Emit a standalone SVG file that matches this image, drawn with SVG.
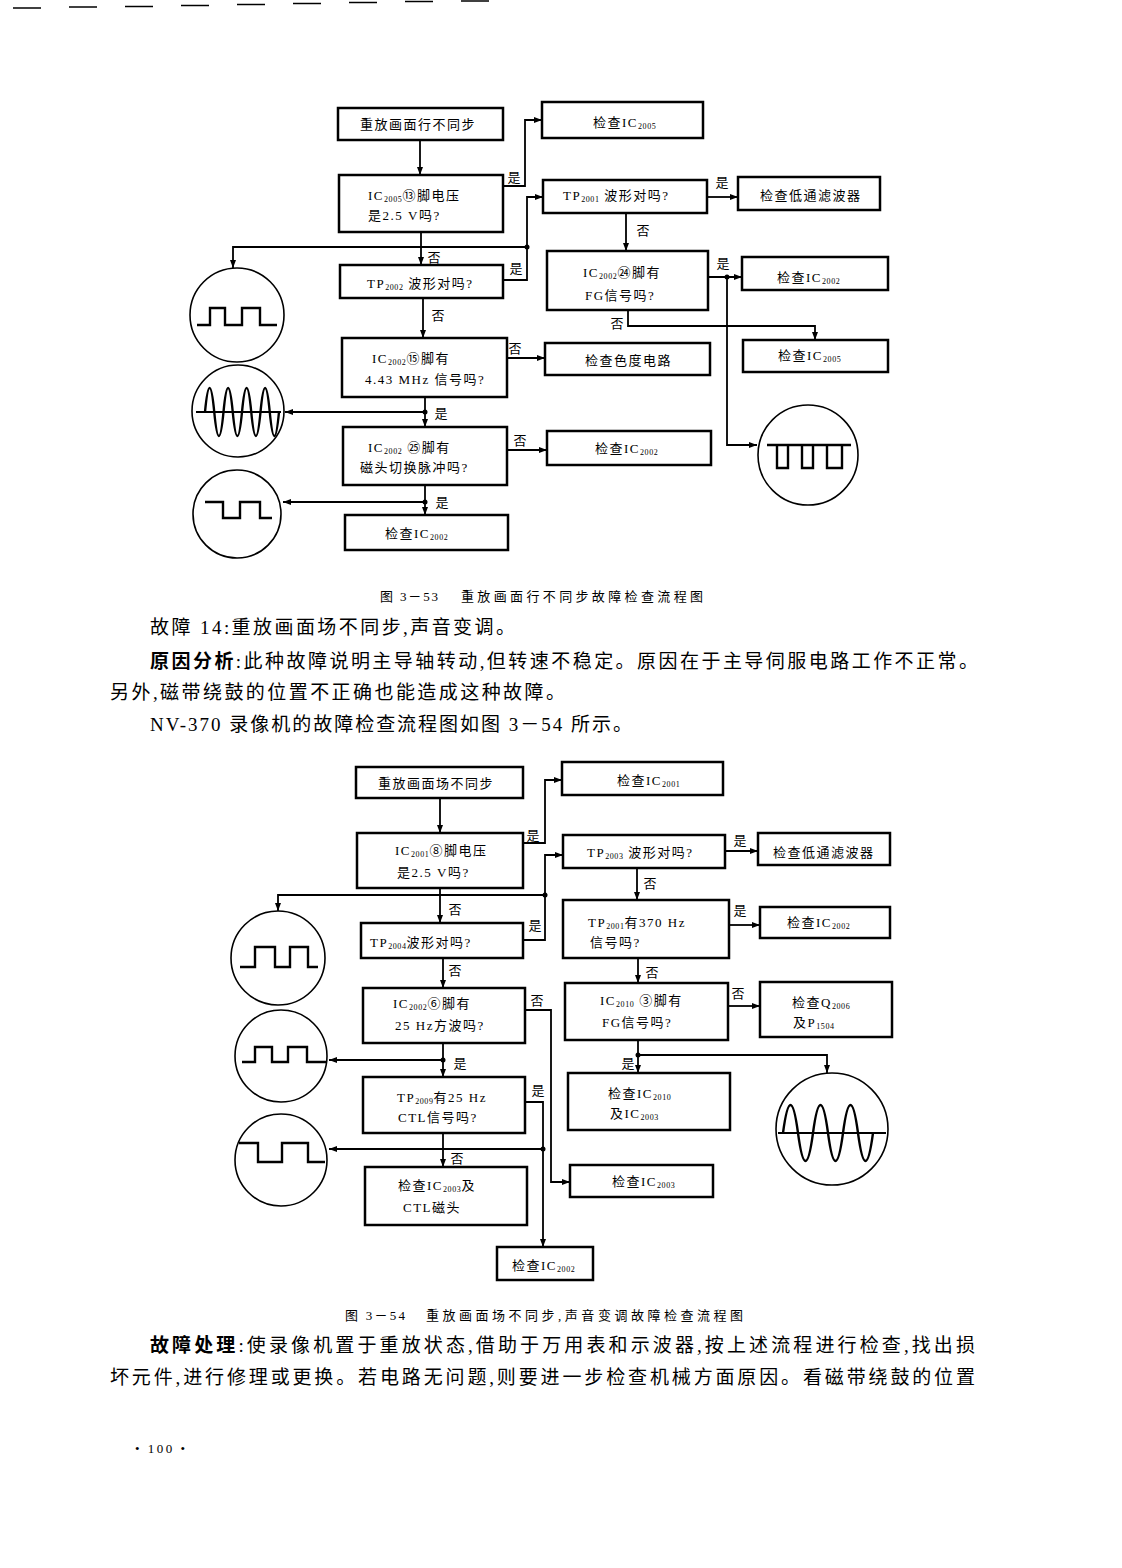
<svg xmlns="http://www.w3.org/2000/svg" width="1122" height="1568" viewBox="0 0 1122 1568">
<style>
.bx{fill:#fff;stroke:#000;stroke-width:2.5}
.ln{fill:none;stroke:#000;stroke-width:1.8}
.cw{fill:#fff;stroke:#000;stroke-width:1.6}
.wv{fill:none;stroke:#000;stroke-width:2.4}
.n{font-family:"Liberation Serif","Noto Sans CJK SC",serif;font-size:13px;letter-spacing:1.5px;fill:#000}
.s{font-size:8px;letter-spacing:0.6px}
.lb{font-family:"Noto Sans CJK SC",sans-serif;font-size:13px;fill:#000;text-anchor:middle}
.cap{font-family:"Liberation Serif","Noto Sans CJK SC",serif;font-size:13px;fill:#000}
.bd{font-family:"Liberation Serif","Noto Sans CJK SC",serif;font-size:19px;fill:#000}
.b{font-weight:bold}
</style>
<defs>
<marker id="a" markerUnits="userSpaceOnUse" markerWidth="9" markerHeight="7" refX="8" refY="3.5" orient="auto"><path d="M0,0.5 L8,3.5 L0,6.5 z" fill="#000"/></marker>
</defs>
<rect width="1122" height="1568" fill="#fff"/>
<g id="page-marks" stroke="#000" stroke-width="1.5">
<line x1="13" y1="8" x2="41" y2="8"/><line x1="69" y1="7" x2="97" y2="7"/><line x1="125" y1="6.5" x2="153" y2="6.5"/><line x1="181" y1="5.5" x2="209" y2="5.5"/><line x1="237" y1="4.5" x2="265" y2="4.5"/><line x1="293" y1="3.5" x2="321" y2="3.5"/><line x1="349" y1="2.5" x2="377" y2="2.5"/><line x1="405" y1="1.5" x2="433" y2="1.5"/><line x1="461" y1="1" x2="489" y2="1"/>
</g>
<g id="connectors">
<path class="ln" d="M420,140 V175" marker-end="url(#a)"/>
<path class="ln" d="M503,186 H525 V120 H542" marker-end="url(#a)"/>
<path class="ln" d="M421,232 V265" marker-end="url(#a)"/>
<path class="ln" d="M527,247 H233 V268" marker-end="url(#a)"/>
<path class="ln" d="M503,280 H527 V197 H543" marker-end="url(#a)"/>
<path class="ln" d="M707,197 H738" marker-end="url(#a)"/>
<path class="ln" d="M626,213 V251" marker-end="url(#a)"/>
<path class="ln" d="M708,277 H742" marker-end="url(#a)"/>
<path class="ln" d="M727,277 V445 H757" marker-end="url(#a)"/>
<path class="ln" d="M628,310 V326 H815 V340" marker-end="url(#a)"/>
<path class="ln" d="M423,298 V338" marker-end="url(#a)"/>
<path class="ln" d="M507,358 H545" marker-end="url(#a)"/>
<path class="ln" d="M425,397 V427" marker-end="url(#a)"/>
<path class="ln" d="M425,412 H285" marker-end="url(#a)"/>
<path class="ln" d="M507,450 H547" marker-end="url(#a)"/>
<path class="ln" d="M425,485 V515" marker-end="url(#a)"/>
<path class="ln" d="M425,502 H283" marker-end="url(#a)"/>
<path class="ln" d="M440,798 V833" marker-end="url(#a)"/>
<path class="ln" d="M523,843 H545 V780 H562" marker-end="url(#a)"/>
<path class="ln" d="M440,888 V923" marker-end="url(#a)"/>
<path class="ln" d="M545,895 H278 V911" marker-end="url(#a)"/>
<path class="ln" d="M523,940 H545 V855 H563" marker-end="url(#a)"/>
<path class="ln" d="M725,851 H758" marker-end="url(#a)"/>
<path class="ln" d="M637,868 V900" marker-end="url(#a)"/>
<path class="ln" d="M729,925 H760" marker-end="url(#a)"/>
<path class="ln" d="M638,958 V983" marker-end="url(#a)"/>
<path class="ln" d="M728,1006 H760" marker-end="url(#a)"/>
<path class="ln" d="M638,1040 V1073" marker-end="url(#a)"/>
<path class="ln" d="M638,1055 H827 V1073" marker-end="url(#a)"/>
<path class="ln" d="M443,958 V988" marker-end="url(#a)"/>
<path class="ln" d="M525,1010 H551 V1182 H570" marker-end="url(#a)"/>
<path class="ln" d="M443,1043 V1077" marker-end="url(#a)"/>
<path class="ln" d="M443,1060 H329" marker-end="url(#a)"/>
<path class="ln" d="M525,1102 H543 V1247" marker-end="url(#a)"/>
<path class="ln" d="M543,1149 H329" marker-end="url(#a)"/>
<path class="ln" d="M443,1133 V1167" marker-end="url(#a)"/>
<g fill="#000">
<circle cx="527" cy="247" r="2.5"/><circle cx="727" cy="277" r="2.5"/><circle cx="425" cy="412" r="2.5"/><circle cx="425" cy="502" r="2.5"/>
<circle cx="545" cy="895" r="2.5"/><circle cx="638" cy="1055" r="2.5"/><circle cx="443" cy="1060" r="2.5"/><circle cx="543" cy="1149" r="2.5"/>
</g>
<text class="lb" x="514" y="182">是</text>
<text class="lb" x="434" y="262">否</text>
<text class="lb" x="516" y="273">是</text>
<text class="lb" x="438" y="320">否</text>
<text class="lb" x="722" y="187">是</text>
<text class="lb" x="643" y="235">否</text>
<text class="lb" x="723" y="268">是</text>
<text class="lb" x="617" y="328">否</text>
<text class="lb" x="515" y="353">否</text>
<text class="lb" x="441" y="418">是</text>
<text class="lb" x="520" y="445">否</text>
<text class="lb" x="442" y="507">是</text>
<text class="lb" x="533" y="840">是</text>
<text class="lb" x="455" y="914">否</text>
<text class="lb" x="535" y="930">是</text>
<text class="lb" x="740" y="845">是</text>
<text class="lb" x="650" y="888">否</text>
<text class="lb" x="740" y="915">是</text>
<text class="lb" x="652" y="977">否</text>
<text class="lb" x="738" y="998">否</text>
<text class="lb" x="628" y="1068">是</text>
<text class="lb" x="537" y="1005">否</text>
<text class="lb" x="455" y="975">否</text>
<text class="lb" x="460" y="1068">是</text>
<text class="lb" x="538" y="1095">是</text>
<text class="lb" x="457" y="1163">否</text>
</g>
<g id="n-a"><rect class="bx" x="338" y="108" width="165" height="32"/><text class="n" x="360" y="129">重放画面行不同步</text></g>
<g id="n-b"><rect class="bx" x="339" y="175" width="164" height="57"/><text class="n" x="368" y="200">IC<tspan class="s" dy="2">2005</tspan><tspan dy="-2">⑬脚电压</tspan></text><text class="n" x="368" y="220">是2.5 V吗?</text></g>
<g id="n-c"><rect class="bx" x="340" y="265" width="163" height="33"/><text class="n" x="367" y="288">TP<tspan class="s" dy="2">2002</tspan><tspan dy="-2"> 波形对吗?</tspan></text></g>
<g id="n-r1"><rect class="bx" x="542" y="102" width="161" height="36"/><text class="n" x="593" y="127">检查IC<tspan class="s" dy="2">2005</tspan></text></g>
<g id="n-r2"><rect class="bx" x="543" y="180" width="164" height="33"/><text class="n" x="563" y="200">TP<tspan class="s" dy="2">2001</tspan><tspan dy="-2"> 波形对吗?</tspan></text></g>
<g id="n-r3"><rect class="bx" x="738" y="177" width="142" height="33"/><text class="n" x="760" y="200">检查低通滤波器</text></g>
<g id="n-r4"><rect class="bx" x="547" y="251" width="161" height="59"/><text class="n" x="583" y="277">IC<tspan class="s" dy="2">2002</tspan><tspan dy="-2">㉔脚有</tspan></text><text class="n" x="585" y="300">FG信号吗?</text></g>
<g id="n-r5"><rect class="bx" x="742" y="257" width="146" height="33"/><text class="n" x="777" y="282">检查IC<tspan class="s" dy="2">2002</tspan></text></g>
<g id="n-r6"><rect class="bx" x="743" y="340" width="145" height="32"/><text class="n" x="778" y="360">检查IC<tspan class="s" dy="2">2005</tspan></text></g>
<g id="n-d"><rect class="bx" x="342" y="338" width="165" height="59"/><text class="n" x="372" y="363">IC<tspan class="s" dy="2">2002</tspan><tspan dy="-2">⑮脚有</tspan></text><text class="n" x="365" y="384">4.43 MHz 信号吗?</text></g>
<g id="n-r7"><rect class="bx" x="545" y="343" width="165" height="32"/><text class="n" x="585" y="365">检查色度电路</text></g>
<g id="n-e"><rect class="bx" x="343" y="427" width="164" height="58"/><text class="n" x="368" y="452">IC<tspan class="s" dy="2">2002</tspan><tspan dy="-2"> ㉕脚有</tspan></text><text class="n" x="360" y="472">磁头切换脉冲吗?</text></g>
<g id="n-r8"><rect class="bx" x="547" y="431" width="164" height="34"/><text class="n" x="595" y="453">检查IC<tspan class="s" dy="2">2002</tspan></text></g>
<g id="n-f"><rect class="bx" x="345" y="515" width="163" height="35"/><text class="n" x="385" y="538">检查IC<tspan class="s" dy="2">2002</tspan></text></g>
<g id="w1"><circle class="cw" cx="237" cy="315" r="47"/><path class="wv" d="M197,325 H210 V308 H225 V325 H242 V308 H260 V325 H277"/></g>
<g id="w2"><circle class="cw" cx="238" cy="411" r="46"/><path class="ln" d="M196,412 H281"/><path class="wv" d="M205,412 Q209.6,364 214.25,412 T223.5,412 T232.75,412 T242,412 T251.25,412 T260.5,412 T269.75,412 T279,412"/></g>
<g id="w3"><circle class="cw" cx="237" cy="514" r="44"/><path class="wv" d="M205,502 H223 V518 H240 V502 H260 V518 H272"/></g>
<g id="w4"><circle class="cw" cx="808" cy="455" r="50"/><path class="wv" d="M767,445 H851 M777,445 V468 H788 V445 M802,445 V468 H813 V445 M827,445 V468 H842 V445"/></g>
<g id="n-g"><rect class="bx" x="356" y="767" width="167" height="31"/><text class="n" x="378" y="788">重放画面场不同步</text></g>
<g id="n-h"><rect class="bx" x="357" y="833" width="166" height="55"/><text class="n" x="395" y="855">IC<tspan class="s" dy="2">2001</tspan><tspan dy="-2">⑧脚电压</tspan></text><text class="n" x="397" y="877">是2.5 V吗?</text></g>
<g id="n-i"><rect class="bx" x="361" y="923" width="162" height="35"/><text class="n" x="370" y="947">TP<tspan class="s" dy="2">2004</tspan><tspan dy="-2">波形对吗?</tspan></text></g>
<g id="n-s1"><rect class="bx" x="562" y="762" width="161" height="33"/><text class="n" x="617" y="785">检查IC<tspan class="s" dy="2">2001</tspan></text></g>
<g id="n-s2"><rect class="bx" x="563" y="835" width="162" height="33"/><text class="n" x="587" y="857">TP<tspan class="s" dy="2">2003</tspan><tspan dy="-2"> 波形对吗?</tspan></text></g>
<g id="n-s3"><rect class="bx" x="758" y="833" width="132" height="32"/><text class="n" x="773" y="857">检查低通滤波器</text></g>
<g id="n-s4"><rect class="bx" x="563" y="900" width="166" height="58"/><text class="n" x="588" y="927">TP<tspan class="s" dy="2">2001</tspan><tspan dy="-2">有370 Hz</tspan></text><text class="n" x="590" y="947">信号吗?</text></g>
<g id="n-s5"><rect class="bx" x="760" y="907" width="130" height="31"/><text class="n" x="787" y="927">检查IC<tspan class="s" dy="2">2002</tspan></text></g>
<g id="n-s6"><rect class="bx" x="565" y="983" width="163" height="57"/><text class="n" x="600" y="1005">IC<tspan class="s" dy="2">2010</tspan><tspan dy="-2"> ③脚有</tspan></text><text class="n" x="602" y="1027">FG信号吗?</text></g>
<g id="n-s7"><rect class="bx" x="760" y="982" width="132" height="55"/><text class="n" x="792" y="1007">检查Q<tspan class="s" dy="2">2006</tspan></text><text class="n" x="793" y="1027">及P<tspan class="s" dy="2">1504</tspan></text></g>
<g id="n-s8"><rect class="bx" x="568" y="1073" width="162" height="57"/><text class="n" x="608" y="1098">检查IC<tspan class="s" dy="2">2010</tspan></text><text class="n" x="610" y="1118">及IC<tspan class="s" dy="2">2003</tspan></text></g>
<g id="n-s9"><rect class="bx" x="570" y="1165" width="143" height="32"/><text class="n" x="612" y="1186">检查IC<tspan class="s" dy="2">2003</tspan></text></g>
<g id="n-j"><rect class="bx" x="363" y="988" width="162" height="55"/><text class="n" x="393" y="1008">IC<tspan class="s" dy="2">2002</tspan><tspan dy="-2">⑥脚有</tspan></text><text class="n" x="395" y="1030">25 Hz方波吗?</text></g>
<g id="n-k"><rect class="bx" x="363" y="1077" width="162" height="56"/><text class="n" x="397" y="1102">TP<tspan class="s" dy="2">2009</tspan><tspan dy="-2">有25 Hz</tspan></text><text class="n" x="398" y="1122">CTL信号吗?</text></g>
<g id="n-l"><rect class="bx" x="365" y="1167" width="162" height="58"/><text class="n" x="398" y="1190">检查IC<tspan class="s" dy="2">2003</tspan><tspan dy="-2">及</tspan></text><text class="n" x="403" y="1212">CTL磁头</text></g>
<g id="n-m"><rect class="bx" x="497" y="1247" width="96" height="33"/><text class="n" x="512" y="1270">检查IC<tspan class="s" dy="2">2002</tspan></text></g>
<g id="w5"><circle class="cw" cx="278" cy="958" r="47"/><path class="wv" d="M240,967 H255 V947 H275 V967 H290 V947 H308 V967 H318"/></g>
<g id="w6"><circle class="cw" cx="281" cy="1056" r="46"/><path class="wv" d="M242,1062 H255 V1047 H272 V1062 H288 V1047 H307 V1062 H326"/></g>
<g id="w7"><circle class="cw" cx="281" cy="1160" r="46"/><path class="wv" d="M239,1143 H258 V1162 H282 V1143 H308 V1162 H325"/></g>
<g id="w8"><circle class="cw" cx="832" cy="1129" r="56"/><path class="ln" d="M778,1133 H886"/><path class="wv" d="M783,1133 Q790.5,1077 798,1133 T813,1133 T828,1133 T843,1133 T858,1133 T873,1133"/></g>
<g id="text">
<text class="cap" x="380" y="601" textLength="58" lengthAdjust="spacing">图 3－53</text>
<text class="cap" x="461" y="601" textLength="242" lengthAdjust="spacing">重放画面行不同步故障检查流程图</text>
<text class="bd" x="150" y="634" textLength="365" lengthAdjust="spacing">故障 14:重放画面场不同步,声音变调。</text>
<text class="bd" x="150" y="668" textLength="828" lengthAdjust="spacing"><tspan class="b">原因分析</tspan>:此种故障说明主导轴转动,但转速不稳定。原因在于主导伺服电路工作不正常。</text>
<text class="bd" x="110" y="699" textLength="455" lengthAdjust="spacing">另外,磁带绕鼓的位置不正确也能造成这种故障。</text>
<text class="bd" x="150" y="731" textLength="482" lengthAdjust="spacing">NV-370 录像机的故障检查流程图如图 3－54 所示。</text>
<text class="cap" x="345" y="1320" textLength="60" lengthAdjust="spacing">图 3－54</text>
<text class="cap" x="426" y="1320" textLength="317" lengthAdjust="spacing">重放画面场不同步,声音变调故障检查流程图</text>
<text class="bd" x="150" y="1352" textLength="825" lengthAdjust="spacing"><tspan class="b">故障处理</tspan>:使录像机置于重放状态,借助于万用表和示波器,按上述流程进行检查,找出损</text>
<text class="bd" x="110" y="1384" textLength="865" lengthAdjust="spacing">坏元件,进行修理或更换。若电路无问题,则要进一步检查机械方面原因。看磁带绕鼓的位置</text>
<text class="cap" x="135" y="1453" font-size="16" textLength="50" lengthAdjust="spacing">• 100 •</text>
</g>
</svg>
